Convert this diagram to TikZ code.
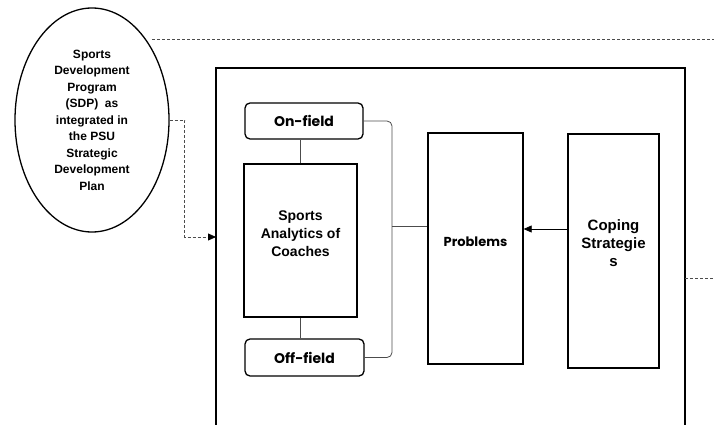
\documentclass[tikz,border=0pt]{standalone}
\usepackage{fontspec}
\setmainfont{Liberation Sans}
\newfontfamily\geofont{Poppins}
\usetikzlibrary{shapes.geometric,arrows.meta}

\begin{document}
\begin{tikzpicture}[x=1pt,y=-1pt,
	box/.style={draw,line width=1.3pt,inner sep=0pt,align=center,font=\bfseries},
	rbox/.style={box,rounded corners=5pt,font=\geofont\bfseries\fontsize{14}{16}\selectfont},
	dashline/.style={dash pattern=on 3pt off 2pt,gray!60!black,line width=0.8pt},
	link/.style={gray!60!black,line width=0.8pt},
	tip/.style={-{Triangle[length=8pt,width=7pt,black]}}]
	\useasboundingbox (0,0) rectangle (714,425);
	\node[ellipse,draw,line width=1.3pt,minimum width=154pt,minimum height=224pt,inner sep=0pt,align=center,font=\bfseries\fontsize{12}{16.5}\selectfont] (sdp) at (92,120) {Sports\\Development\\Program\\(SDP)\ \ as\\integrated in\\the PSU\\Strategic\\Development\\Plan};
	% frame, open at the bottom
	\draw[line width=1.8pt] (216,425) -- (216,68) -- (685,68) -- (685,425);
	\coordinate (frameL) at (216,237);
	\coordinate (frameR) at (685,278);
	\coordinate (topend) at (714,40);
	\coordinate (rightend) at (714,278);
	\node[rbox,minimum width=118pt,minimum height=36pt] (onf) at (304,121) {On-field};
	\node[box,minimum width=113pt,minimum height=153pt,label={[font=\bfseries\fontsize{14}{18}\selectfont,align=center,yshift=7pt]center:Sports\\Analytics of\\Coaches}] (sac) at (300.5,240.5) {};
	\node[rbox,minimum width=119pt,minimum height=37pt] (off) at (304.5,357.5) {Off-field};
	\node[box,minimum width=95pt,minimum height=231pt,label={[font=\geofont\bfseries\fontsize{13}{15}\selectfont,yshift=7pt]center:Problems}] (prob) at (475.5,248.5) {};
	\node[box,minimum width=91pt,minimum height=234pt,label={[font=\bfseries\fontsize{15}{18}\selectfont,align=center,yshift=8pt]center:Coping\\Strategie\\s}] (cop) at (613.5,251) {};
	\coordinate (br) at (392,226);
	% connectors
	\draw[dashline] ([xshift=6pt]sdp.56) -- (sdp.56 -| topend);
	\draw[dashline,tip] (sdp.east) -- ++(15,0) |- (frameL);
	\draw[dashline] (frameR) -- (rightend);
	\draw[link] (sac.north) -- (sac.north |- onf.south);
	\draw[link] (sac.south) -- (sac.south |- off.north);
	\draw[link,rounded corners=5pt] (onf.east) -- (br |- onf.east) -- (br |- off.east) -- (off.east);
	\draw[link] (br) -- (br -| prob.west);
	\draw[line width=0.8pt,tip] ([yshift=22pt]cop.west) -- ([yshift=22pt]cop.west -| prob.east);
\end{tikzpicture}
\end{document}
